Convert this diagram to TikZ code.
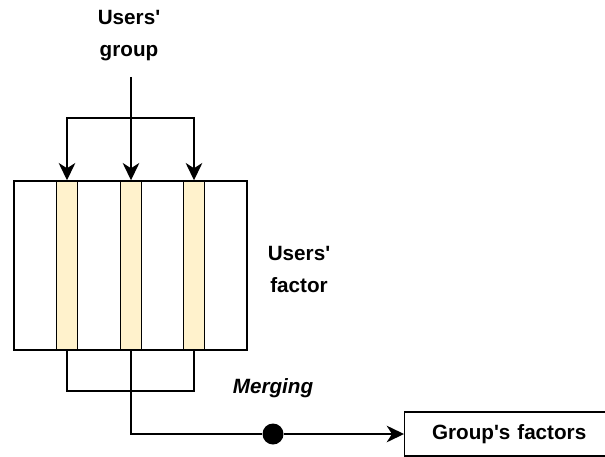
\documentclass[tikz,border=0pt]{standalone}
\usepackage{fontspec}
\setmainfont{Liberation Sans}[Ligatures=TeXOff]
\usetikzlibrary{arrows.meta, positioning}
\definecolor{cream}{HTML}{FFF2CC}

\begin{document}
\begin{tikzpicture}[x=0.75pt, y=-0.75pt, line width=1.1pt,
    font=\fontsize{15.5}{24}\selectfont\bfseries,
    >={Stealth[length=13pt,width=12.5pt,inset=4pt]}]
  \useasboundingbox (0,0) rectangle (605,456);
  \clip (0,0) rectangle (605,456);
  % factor matrix and the group's columns
  \begin{scope}[every node/.style={draw, inner sep=0pt, minimum height=126.75pt}]
    \node[minimum width=174.75pt] (factor) at (130.5,265.5) {};
    \node[fill=cream, minimum width=15.75pt] (s1) at (67,265.5) {};
    \node[fill=cream, minimum width=15.75pt] (s2) at (131,265.5) {};
    \node[fill=cream, minimum width=15.75pt] (s3) at (194,265.5) {};
  \end{scope}
  % labels
  \begin{scope}[every node/.style={align=center}]
    \node (grp) at (129,36) {Users'\\group};
    \node (fac) at (299,269) {Users'\\factor};
    \node (mrg) at (273,388) {\itshape Merging};
  \end{scope}
  \node[draw, anchor=west, minimum height=33pt, text width=150pt, align=left,
        inner xsep=20.5pt] (gf) at (404,434) {Group's factors};
  \node[circle, fill=black, inner sep=0pt, minimum size=15.75pt] (dot) at (273,434) {};
  \coordinate (top) at (131,77);
  \coordinate (bar) at (131,118);
  \coordinate (brk) at (131,391);
  % selecting the columns
  \draw[->] (top) -- (s2.north);
  \draw[->] (bar) -| (s1.north);
  \draw[->] (bar) -| (s3.north);
  % merging them
  \draw (s1.south) |- (brk) -| (s3.south);
  \draw (s2.south) |- (dot);
  \draw[->] (dot) -- (gf);
\end{tikzpicture}
\end{document}
